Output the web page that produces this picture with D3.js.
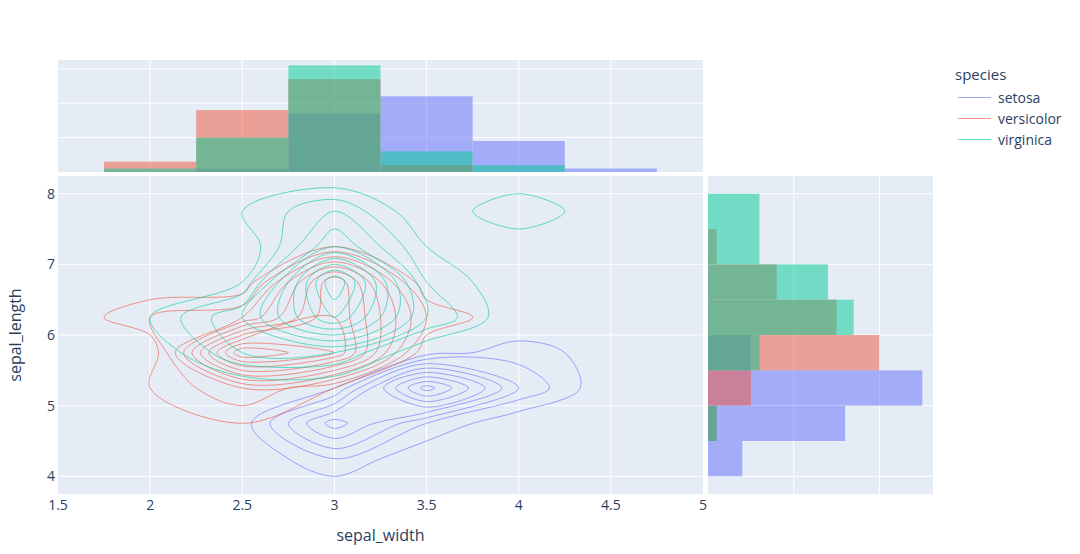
<!DOCTYPE html>
<html>
<head>
<meta charset="utf-8">
<script src="https://cdn.jsdelivr.net/npm/d3@7"></script>
<style>
  body { margin: 0; background: #fff; }
  svg { font-family: "Open Sans", verdana, arial, sans-serif; }
</style>
</head>
<body>
<svg id="chart" width="1080" height="554"></svg>
<script>
// iris measurements (sepal_width, sepal_length) per species
const setosaWidth = [3.5,3.0,3.2,3.1,3.6,3.9,3.4,3.4,2.9,3.1,3.7,3.4,3.0,3.0,4.0,4.4,3.9,3.5,3.8,3.8,
    3.4,3.7,3.6,3.3,3.4,3.0,3.4,3.5,3.4,3.2,3.1,3.4,4.1,4.2,3.1,3.2,3.5,3.1,3.0,3.4,
    3.5,2.3,3.2,3.5,3.8,3.0,3.8,3.2,3.7,3.3];
const setosaLength = [5.1,4.9,4.7,4.6,5.0,5.4,4.6,5.0,4.4,4.9,5.4,4.8,4.8,4.3,5.8,5.7,5.4,5.1,5.7,5.1,
    5.4,5.1,4.6,5.1,4.8,5.0,5.0,5.2,5.2,4.7,4.8,5.4,5.2,5.5,4.9,5.0,5.5,4.9,4.4,5.1,
    5.0,4.5,4.4,5.0,5.1,4.8,5.1,4.6,5.3,5.0];
const versicolorWidth = [3.2,3.2,3.1,2.3,2.8,2.8,3.3,2.4,2.9,2.7,2.0,3.0,2.2,2.9,2.9,3.1,3.0,2.7,2.2,2.5,
    3.2,2.8,2.5,2.8,2.9,3.0,2.8,3.0,2.9,2.6,2.4,2.4,2.7,2.7,3.0,3.4,3.1,2.3,3.0,2.5,
    2.6,3.0,2.6,2.3,2.7,3.0,2.9,2.9,2.5,2.8];
const versicolorLength = [7.0,6.4,6.9,5.5,6.5,5.7,6.3,4.9,6.6,5.2,5.0,5.9,6.0,6.1,5.6,6.7,5.6,5.8,6.2,5.6,
    5.9,6.1,6.3,6.1,6.4,6.6,6.8,6.7,6.0,5.7,5.5,5.5,5.8,6.0,5.4,6.0,6.7,6.3,5.6,5.5,
    5.5,6.1,5.8,5.0,5.6,5.7,5.7,6.2,5.1,5.7];
const virginicaWidth = [3.3,2.7,3.0,2.9,3.0,3.0,2.5,2.9,2.5,3.6,3.2,2.7,3.0,2.5,2.8,3.2,3.0,3.8,2.6,2.2,
    3.2,2.8,2.8,2.7,3.3,3.2,2.8,3.0,2.8,3.0,2.8,3.8,2.8,2.8,2.6,3.0,3.4,3.1,3.0,3.1,
    3.1,3.1,2.7,3.2,3.3,3.0,2.5,3.0,3.4,3.0];
const virginicaLength = [6.3,5.8,7.1,6.3,6.5,7.6,4.9,7.3,6.7,7.2,6.5,6.4,6.8,5.7,5.8,6.4,6.5,7.7,7.7,6.0,
    6.9,5.6,7.7,6.3,6.7,7.2,6.2,6.1,6.4,7.2,7.4,7.9,6.4,6.3,6.1,7.7,6.3,6.4,6.0,6.9,
    6.7,6.9,5.8,6.8,6.7,6.7,6.3,6.5,6.2,5.9];

const speciesNames = ["setosa", "versicolor", "virginica"];
const speciesColors = ["#636efa", "#EF553B", "#00cc96"];

const xTicks = [1.5, 2, 2.5, 3, 3.5, 4, 4.5, 5];
const yTicks = [4, 5, 6, 7, 8];
const topCountTicks = [10, 20, 30];
const rightCountTicks = [10, 20];

// shared bins (0.5 wide) of the histograms and of the 2D density
const binSize = 0.5;
const xBinStart = 1.75, xBinCount = 6;
const yBinStart = 4.0, yBinCount = 8;

const series = [
    { name: speciesNames[0], color: speciesColors[0], sw: setosaWidth, sl: setosaLength },
    { name: speciesNames[1], color: speciesColors[1], sw: versicolorWidth, sl: versicolorLength },
    { name: speciesNames[2], color: speciesColors[2], sw: virginicaWidth, sl: virginicaLength }
];

function binIndex(v, start) {
    return Math.floor((v - start) / binSize + 1e-9);
}
function countBins(values, start, n) {
    const c = new Array(n).fill(0);
    values.forEach(v => { const i = binIndex(v, start); if (i >= 0 && i < n) c[i]++; });
    return c;
}

const nx = xBinCount + 2, ny = yBinCount + 2;   // 2D grid padded with zeros
const xc0 = xBinStart - binSize / 2, yc0 = yBinStart - binSize / 2;   // first (padded) bin centre

series.forEach(s => {
    s.xCounts = countBins(s.sw, xBinStart, xBinCount);
    s.yCounts = countBins(s.sl, yBinStart, yBinCount);
    const grid = new Array(nx * ny).fill(0);
    s.sw.forEach((w, k) => {
        const i = binIndex(w, xBinStart), j = binIndex(s.sl[k], yBinStart);
        grid[(j + 1) * nx + (i + 1)]++;
    });
    s.grid = grid;
    // contour levels like plotly's auto contours (ncontours 15)
    const zmax = d3.max(grid);
    const rough = zmax / 15;
    const base = Math.pow(10, Math.floor(Math.log10(rough)));
    const r = rough / base;
    const step = base * (r < 2 ? 2 : r < 5 ? 5 : 10);
    let end = Math.floor(zmax / step + 1e-9) * step;
    if (Math.abs(end - zmax) < 1e-9) end -= step;
    s.levels = d3.range(step, end + step / 2, step);
});

// marching squares; saddles decided by the cell average
function isoRings(grid, level) {
    const z = (i, j) => grid[j * nx + i];
    const pts = new Map(), adj = new Map();
    function edgePoint(key, i0, j0, i1, j1) {
        if (!pts.has(key)) {
            const a = z(i0, j0), b = z(i1, j1);
            const t = (level - a) / (b - a);
            pts.set(key, [i0 + t * (i1 - i0), j0 + t * (j1 - j0)]);
        }
        return key;
    }
    function link(a, b) {
        if (!adj.has(a)) adj.set(a, []);
        if (!adj.has(b)) adj.set(b, []);
        adj.get(a).push(b);
        adj.get(b).push(a);
    }
    for (let j = 0; j < ny - 1; j++) {
        for (let i = 0; i < nx - 1; i++) {
            const c = [z(i, j), z(i + 1, j), z(i + 1, j + 1), z(i, j + 1)];
            const h = c.map(v => v > level);
            const edges = [
                h[0] !== h[1] ? edgePoint(`h${i},${j}`, i, j, i + 1, j) : null,
                h[1] !== h[2] ? edgePoint(`v${i + 1},${j}`, i + 1, j, i + 1, j + 1) : null,
                h[3] !== h[2] ? edgePoint(`h${i},${j + 1}`, i, j + 1, i + 1, j + 1) : null,
                h[0] !== h[3] ? edgePoint(`v${i},${j}`, i, j, i, j + 1) : null
            ];
            const crossed = edges.filter(e => e);
            if (crossed.length === 2) link(crossed[0], crossed[1]);
            else if (crossed.length === 4) {
                const centreHigh = d3.mean(c) > level;
                // corners whose state differs from the centre are cut off
                const cornerEdges = [[0, 3], [0, 1], [1, 2], [2, 3]];
                cornerEdges.forEach((ce, k) => {
                    if (h[k] !== centreHigh) link(edges[ce[0]], edges[ce[1]]);
                });
            }
        }
    }
    const seen = new Set(), rings = [];
    adj.forEach((_, start) => {
        if (seen.has(start)) return;
        const ring = [];
        let prev = null, cur = start;
        while (cur && !seen.has(cur)) {
            seen.add(cur);
            ring.push(pts.get(cur));
            const next = adj.get(cur).find(n => n !== prev && !seen.has(n));
            prev = cur;
            cur = next;
        }
        const clean = ring.filter((p, k) => {
            const q = ring[(k + 1) % ring.length];
            return ring.length < 2 || Math.hypot(p[0] - q[0], p[1] - q[1]) > 1e-9;
        });
        if (clean.length > 2) rings.push(clean);
    });
    return rings;
}

const svg = d3.select("#chart");
const plotBg = "#E5ECF6", textColor = "#2a3f5f";

const mainBox = { left: 58, right: 703, top: 176, bottom: 494 };
const topBox = { top: 60, bottom: 172 };
const sideBox = { left: 708, right: 933 };

const x = d3.scaleLinear().domain([1.5, 5]).range([mainBox.left, mainBox.right]);
const y = d3.scaleLinear().domain([3.75, 8.25]).range([mainBox.bottom, mainBox.top]);
const topMax = d3.max(series, s => d3.max(s.xCounts)) * 1.05;
const sideMax = d3.max(series, s => d3.max(s.yCounts)) * 1.05;
const yTop = d3.scaleLinear().domain([0, topMax]).range([topBox.bottom, topBox.top]);
const xSide = d3.scaleLinear().domain([0, sideMax]).range([sideBox.left, sideBox.right]);

// backgrounds
svg.append("rect").attr("x", mainBox.left).attr("y", mainBox.top)
    .attr("width", mainBox.right - mainBox.left).attr("height", mainBox.bottom - mainBox.top).attr("fill", plotBg);
svg.append("rect").attr("x", mainBox.left).attr("y", topBox.top)
    .attr("width", mainBox.right - mainBox.left).attr("height", topBox.bottom - topBox.top).attr("fill", plotBg);
svg.append("rect").attr("x", sideBox.left).attr("y", mainBox.top)
    .attr("width", sideBox.right - sideBox.left).attr("height", mainBox.bottom - mainBox.top).attr("fill", plotBg);

// grid lines
const gridG = svg.append("g").attr("stroke", "#fff").attr("stroke-width", 1);
const innerX = xTicks.filter(v => v > 1.5 && v < 5);
innerX.forEach(v => {
    gridG.append("line").attr("x1", x(v)).attr("x2", x(v)).attr("y1", mainBox.top).attr("y2", mainBox.bottom);
    gridG.append("line").attr("x1", x(v)).attr("x2", x(v)).attr("y1", topBox.top).attr("y2", topBox.bottom);
});
yTicks.forEach(v => {
    gridG.append("line").attr("x1", mainBox.left).attr("x2", mainBox.right).attr("y1", y(v)).attr("y2", y(v));
    gridG.append("line").attr("x1", sideBox.left).attr("x2", sideBox.right).attr("y1", y(v)).attr("y2", y(v));
});
topCountTicks.forEach(v => {
    gridG.append("line").attr("x1", mainBox.left).attr("x2", mainBox.right).attr("y1", yTop(v)).attr("y2", yTop(v));
});
rightCountTicks.forEach(v => {
    gridG.append("line").attr("x1", xSide(v)).attr("x2", xSide(v)).attr("y1", mainBox.top).attr("y2", mainBox.bottom);
});

// marginal histograms
series.forEach(s => {
    svg.append("g").attr("fill", s.color).attr("opacity", 0.5)
        .selectAll("rect").data(s.xCounts.map((c, i) => ({ c, i })).filter(d => d.c > 0))
        .join("rect")
        .attr("x", d => x(xBinStart + d.i * binSize))
        .attr("width", d => x(xBinStart + (d.i + 1) * binSize) - x(xBinStart + d.i * binSize))
        .attr("y", d => yTop(d.c))
        .attr("height", d => yTop(0) - yTop(d.c));

    svg.append("g").attr("fill", s.color).attr("opacity", 0.5)
        .selectAll("rect").data(s.yCounts.map((c, i) => ({ c, i })).filter(d => d.c > 0))
        .join("rect")
        .attr("x", xSide(0))
        .attr("width", d => xSide(d.c) - xSide(0))
        .attr("y", d => y(yBinStart + (d.i + 1) * binSize))
        .attr("height", d => y(yBinStart + d.i * binSize) - y(yBinStart + (d.i + 1) * binSize));
});

// density contours
svg.append("clipPath").attr("id", "mainClip").append("rect")
    .attr("x", mainBox.left).attr("y", mainBox.top)
    .attr("width", mainBox.right - mainBox.left).attr("height", mainBox.bottom - mainBox.top);

const contourLayer = svg.append("g").attr("clip-path", "url(#mainClip)");
const ringLine = d3.line()
    .x(p => x(xc0 + p[0] * binSize))
    .y(p => y(yc0 + p[1] * binSize))
    .curve(d3.curveCatmullRomClosed.alpha(0.5));

series.forEach(s => {
    const g = contourLayer.append("g")
        .attr("fill", "none").attr("stroke", s.color)
        .attr("stroke-width", 0.75).attr("stroke-opacity", 0.8);
    s.levels.forEach(level => {
        isoRings(s.grid, level).forEach(ring => g.append("path").attr("d", ringLine(ring)));
    });
});

// axis labels
const fmt = d3.format("~g");
svg.append("g").attr("fill", textColor).attr("font-size", 14).attr("text-anchor", "middle")
    .selectAll("text").data(xTicks).join("text")
    .attr("x", d => x(d)).attr("y", 510).text(d => fmt(d));
svg.append("g").attr("fill", textColor).attr("font-size", 14).attr("text-anchor", "end")
    .selectAll("text").data(yTicks).join("text")
    .attr("x", 55).attr("y", d => y(d) + 5).text(d => fmt(d));

svg.append("text").attr("x", (mainBox.left + mainBox.right) / 2).attr("y", 541)
    .attr("text-anchor", "middle").attr("fill", textColor).attr("font-size", 16)
    .text("sepal_width");
svg.append("text")
    .attr("transform", `translate(21,${(mainBox.top + mainBox.bottom) / 2}) rotate(-90)`)
    .attr("text-anchor", "middle").attr("fill", textColor).attr("font-size", 16)
    .text("sepal_length");

// legend
const legend = svg.append("g");
legend.append("text").attr("x", 955).attr("y", 80).attr("fill", textColor)
    .attr("font-size", 15).text("species");
series.forEach((s, i) => {
    const cy = 97.5 + i * 21;
    legend.append("line").attr("x1", 958).attr("x2", 991).attr("y1", cy).attr("y2", cy)
        .attr("stroke", s.color).attr("stroke-width", 1).attr("opacity", 0.6);
    legend.append("text").attr("x", 998).attr("y", cy + 5).attr("fill", textColor)
        .attr("font-size", 14).text(s.name);
});
</script>
</body>
</html>
